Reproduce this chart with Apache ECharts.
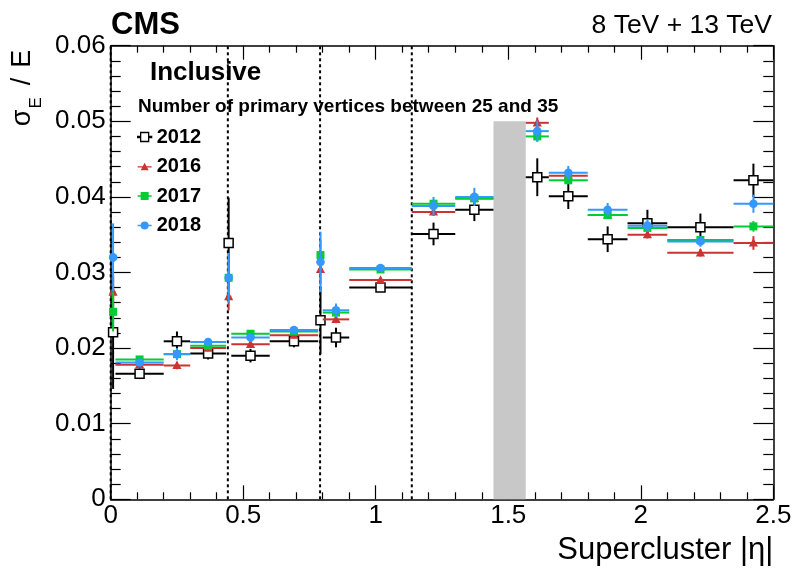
<!DOCTYPE html>
<html><head><meta charset="utf-8">
<script src="https://cdn.jsdelivr.net/npm/echarts@6/dist/echarts.min.js"></script>
<style>html,body{margin:0;padding:0;background:#fff}#c{width:798px;height:574px}</style>
</head><body><div id="c"></div>
<script>
// ---- data ----
const binLow  = [0, 0.018, 0.2, 0.3, 0.435, 0.455, 0.6, 0.783, 0.8, 0.9, 1.136, 1.3, 1.566, 1.653, 1.8, 1.95, 2.1, 2.35];
const binHigh = [0.018, 0.2, 0.3, 0.435, 0.455, 0.6, 0.783, 0.8, 0.9, 1.136, 1.3, 1.4442, 1.653, 1.8, 1.95, 2.1, 2.35, 2.5];
const years = ['2012', '2016', '2017', '2018'];
const val2012 = [0.0221, 0.0166, 0.0209, 0.0193, 0.0339, 0.0190, 0.0209, 0.0237, 0.0214, 0.0280, 0.0351, 0.0383, 0.0426, 0.0401, 0.0344, 0.0365, 0.0360, 0.0422];
const err2012 = [0.0075, 0.0007, 0.0013, 0.0008, 0.0060, 0.0009, 0.0008, 0.0045, 0.0013, 0.0005, 0.0015, 0.0015, 0.0025, 0.0017, 0.0017, 0.0018, 0.0018, 0.0022];
const val2016 = [0.0274, 0.0178, 0.0177, 0.0200, 0.0268, 0.0205, 0.0217, 0.0304, 0.0238, 0.0290, 0.0380, 0.0398, 0.0498, 0.0428, 0.0376, 0.0350, 0.0326, 0.0339];
const err2016 = [0.0020, 0.0004, 0.0005, 0.0004, 0.0018, 0.0004, 0.0004, 0.0020, 0.0005, 0.0003, 0.0005, 0.0005, 0.0007, 0.0005, 0.0005, 0.0005, 0.0005, 0.0009];
const val2017 = [0.0248, 0.0185, 0.0192, 0.0203, 0.0293, 0.0219, 0.0222, 0.0323, 0.0247, 0.0304, 0.0391, 0.0398, 0.0480, 0.0422, 0.0376, 0.0359, 0.0343, 0.0361];
const err2017 = [0.0026, 0.0004, 0.0005, 0.0004, 0.0020, 0.0004, 0.0004, 0.0020, 0.0005, 0.0003, 0.0005, 0.0005, 0.0007, 0.0005, 0.0005, 0.0005, 0.0005, 0.0007];
const val2018 = [0.0320, 0.0181, 0.0192, 0.0208, 0.0293, 0.0214, 0.0224, 0.0314, 0.0250, 0.0306, 0.0388, 0.0400, 0.0487, 0.0432, 0.0383, 0.0362, 0.0341, 0.0391];
const err2018 = [0.0045, 0.0004, 0.0008, 0.0005, 0.0033, 0.0005, 0.0005, 0.0040, 0.0009, 0.0004, 0.0012, 0.0012, 0.0014, 0.0009, 0.0009, 0.0008, 0.0007, 0.0012];
const moduleBoundaries = [0, 0.442, 0.79, 1.136];
const gapRegion = [1.4442, 1.566, 0.05];
const xRange = [0, 2.5], xStep = 0.5;
const yRange = [0, 0.06], yStep = 0.01;

// ---- styling ----
const FONT = '"Liberation Sans", Arial, Helvetica, sans-serif';
const colors = {'2012': '#000000', '2016': '#cc3333', '2017': '#00cc33', '2018': '#3399ff'};
const shapes = {'2012': 'open', '2016': 'triangle', '2017': 'square', '2018': 'circle'};
const valueSets = {'2012': [val2012, err2012], '2016': [val2016, err2016], '2017': [val2017, err2017], '2018': [val2018, err2018]};

function buildData(vals, errs) {
  return vals.map((v, i) => [(binLow[i] + binHigh[i]) / 2, v, binLow[i], binHigh[i], errs[i]]);
}

function marker(shape, color, cx, cy) {
  if (shape === 'open') return {type: 'rect', shape: {x: cx - 4.5, y: cy - 4.5, width: 9, height: 9}, style: {fill: '#fff', stroke: '#000', lineWidth: 1.5}};
  if (shape === 'triangle') return {type: 'polygon', shape: {points: [[cx, cy - 4.8], [cx + 4.6, cy + 3.6], [cx - 4.6, cy + 3.6]]}, style: {fill: color}};
  if (shape === 'square') return {type: 'rect', shape: {x: cx - 4, y: cy - 4, width: 8, height: 8}, style: {fill: color}};
  return {type: 'circle', shape: {cx: cx, cy: cy, r: 4.3}, style: {fill: color}};
}

function makeRender(shape, color) {
  return function (params, api) {
    const xc = api.value(0), y = api.value(1), xl = api.value(2), xh = api.value(3), e = api.value(4);
    const pL = api.coord([xl, y]), pH = api.coord([xh, y]);
    const pT = api.coord([xc, y + e]), pB = api.coord([xc, y - e]);
    const pC = api.coord([xc, y]);
    return {type: 'group', children: [
      {type: 'line', shape: {x1: pL[0], y1: pL[1], x2: pH[0], y2: pH[1]}, style: {stroke: color, lineWidth: 2}},
      {type: 'line', shape: {x1: pT[0], y1: pT[1], x2: pB[0], y2: pB[1]}, style: {stroke: color, lineWidth: 2}},
      marker(shape, color, pC[0], pC[1])
    ]};
  };
}

const dataSeries = years.map(yr => ({
  name: yr, type: 'custom', z: 5,
  itemStyle: {color: colors[yr]},
  renderItem: makeRender(shapes[yr], colors[yr]),
  encode: {x: 0, y: 1},
  data: buildData(valueSets[yr][0], valueSets[yr][1])
}));

const bandSeries = {
  name: 'gap', type: 'custom', z: 1, silent: true,
  renderItem: function (params, api) {
    const p0 = api.coord([api.value(0), 0]);
    const p1 = api.coord([api.value(1), api.value(2)]);
    return {type: 'rect', shape: {x: p0[0], y: p1[1], width: p1[0] - p0[0], height: p0[1] - p1[1]}, style: {fill: '#c8c8c8'}};
  },
  data: [gapRegion]
};

const lineSeries = {
  name: 'boundaries', type: 'custom', z: 2, silent: true,
  renderItem: function (params, api) {
    const p0 = api.coord([api.value(0), yRange[0]]);
    const p1 = api.coord([api.value(0), yRange[1]]);
    return {type: 'line', shape: {x1: p0[0], y1: p0[1], x2: p1[0], y2: p1[1]}, style: {stroke: '#000', lineWidth: 2, lineDash: [3, 3]}};
  },
  encode: {x: 0},
  data: moduleBoundaries.map(v => [v])
};

function xAxisDef(pos, withLabels) {
  const a = {
    type: 'value', position: pos, min: xRange[0], max: xRange[1], interval: xStep,
    axisLine: {show: true, onZero: false, lineStyle: {color: '#000', width: 1.5}},
    axisTick: {show: true, inside: true, length: 14, lineStyle: {color: '#000', width: 1.2}},
    minorTick: {show: true, splitNumber: 5, length: 7, lineStyle: {color: '#000', width: 1.2}},
    splitLine: {show: false}, minorSplitLine: {show: false},
    axisLabel: {show: withLabels, color: '#000', fontSize: 26, fontFamily: FONT, margin: 4}
  };
  if (withLabels) {
    a.name = 'Supercluster |η|';
    a.nameLocation = 'end';
    a.nameGap = 0;
    a.nameMoveOverlap = false;
    a.nameTextStyle = {color: '#000', fontSize: 31, fontFamily: FONT, align: 'right', verticalAlign: 'top', lineHeight: 31, padding: [36, 0, 0, 0]};
  }
  return a;
}
function yAxisDef(pos, withLabels) {
  const a = {
    type: 'value', position: pos, min: yRange[0], max: yRange[1], interval: yStep,
    axisLine: {show: true, onZero: false, lineStyle: {color: '#000', width: 1.5}},
    axisTick: {show: true, inside: true, length: 20, lineStyle: {color: '#000', width: 1.2}},
    minorTick: {show: true, splitNumber: 5, length: 10, lineStyle: {color: '#000', width: 1.2}},
    splitLine: {show: false}, minorSplitLine: {show: false},
    axisLabel: {show: withLabels, color: '#000', fontSize: 26, fontFamily: FONT, margin: 5}
  };
  if (withLabels) {
    a.name = '{a|σ}{b|E}{c|/}{a|E}';
    a.nameLocation = 'end';
    a.nameGap = -4;
    a.nameRotate = 90;
    a.nameMoveOverlap = false;
    a.nameTextStyle = {
      align: 'right', verticalAlign: 'bottom', padding: [0, 0, 72, 0],
      rich: {
        a: {fontSize: 27, fontFamily: FONT, color: '#000', lineHeight: 30, verticalAlign: 'top'},
        c: {fontSize: 27, fontFamily: FONT, color: '#000', lineHeight: 30, verticalAlign: 'top', padding: [0, 10, 0, 10]},
        b: {fontSize: 17, fontFamily: FONT, color: '#000', lineHeight: 17, verticalAlign: 'top', padding: [19, 2, 0, 1]}
      }
    };
  }
  return a;
}

const chart = echarts.init(document.getElementById('c'), null, {renderer: 'canvas'});
chart.setOption({
  animation: false,
  backgroundColor: '#fff',
  textStyle: {fontFamily: FONT},
  grid: {left: 110.7, right: 24.7, top: 45.7, bottom: 74.7, containLabel: false, outerBoundsMode: 'none'},
  title: [
    {text: 'CMS', left: 111, top: 10, padding: 0, textStyle: {fontSize: 31, fontWeight: 'bold', color: '#000', fontFamily: FONT, lineHeight: 31}},
    {text: '8 TeV + 13 TeV', right: 26, top: 13, padding: 0, textStyle: {fontSize: 26.5, fontWeight: 'normal', color: '#000', fontFamily: FONT, lineHeight: 26}},
    {text: 'Inclusive', left: 150, top: 60, padding: 0, textStyle: {fontSize: 26, fontWeight: 'bold', color: '#000', fontFamily: FONT, lineHeight: 26}},
    {text: 'Number of primary vertices between 25 and 35', left: 138, top: 97, padding: 0, textStyle: {fontSize: 19, fontWeight: 'bold', color: '#000', fontFamily: FONT, lineHeight: 19}}
  ],
  legend: {
    orient: 'vertical', left: 137, top: 127, padding: 0, itemGap: 9.5,
    itemWidth: 14, itemHeight: 9, selectedMode: false,
    textStyle: {fontSize: 20, fontWeight: 'bold', color: '#000', fontFamily: FONT, lineHeight: 20},
    data: [
      {name: '2012', icon: 'path://M0,4H3V5H0Z M11,4H14V5H11Z M3,0H11V9H3Z', itemStyle: {color: '#fff', borderColor: '#000', borderWidth: 1.3}},
      {name: '2016', icon: 'path://M0,3.8H14V5.2H0Z M7,0.3L11,8H3Z', itemStyle: {color: colors['2016']}},
      {name: '2017', icon: 'path://M0,3.8H14V5.2H0Z M3,0.5H11V8.5H3Z', itemStyle: {color: colors['2017']}},
      {name: '2018', icon: 'path://M0,3.8H14V5.2H0Z M3,4.5A4,4 0 1 1 11,4.5A4,4 0 1 1 3,4.5Z', itemStyle: {color: colors['2018']}}
    ]
  },
  xAxis: [xAxisDef('bottom', true), xAxisDef('top', false)],
  yAxis: [yAxisDef('left', true), yAxisDef('right', false)],
  series: [bandSeries, lineSeries].concat(dataSeries)
});
</script>
</body></html>
